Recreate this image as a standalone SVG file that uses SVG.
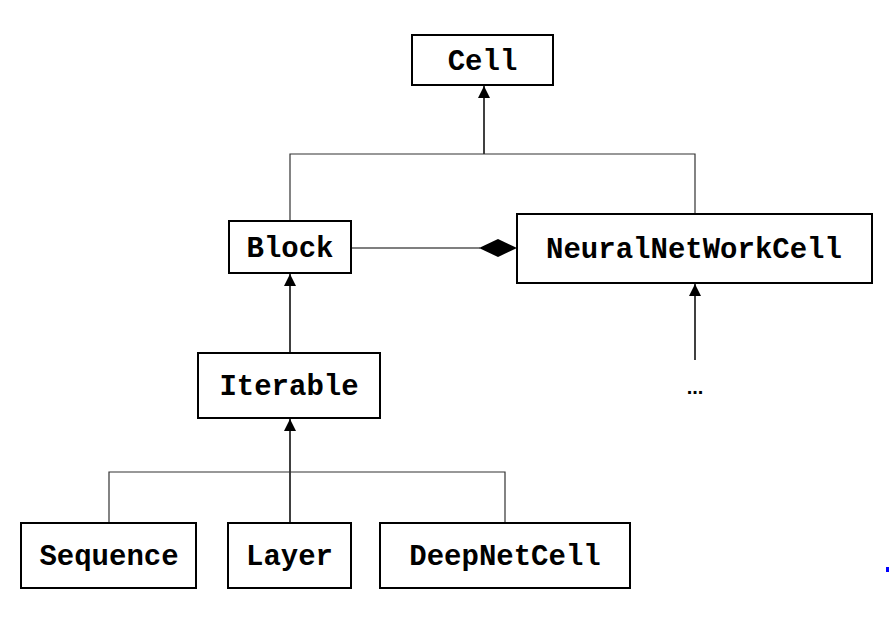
<svg xmlns="http://www.w3.org/2000/svg" width="890" height="623" viewBox="0 0 890 623">
<style>
.box{fill:#fff;stroke:#000;stroke-width:2}
.lbl{font-family:"Liberation Mono","Courier New",monospace;font-weight:bold;font-size:29px;fill:#000;text-anchor:middle;dominant-baseline:central}
.ln{fill:none;stroke:#333;stroke-width:1.2}
.ar{fill:none;stroke:#000;stroke-width:1.5;marker-end:url(#tri)}
</style>
<defs>
<marker id="tri" markerWidth="12" markerHeight="14" refX="12" refY="6" orient="auto" markerUnits="userSpaceOnUse" viewBox="0 0 12 12">
<path d="M0,0 L12,6 L0,12 z" fill="#000"/>
</marker>
</defs>
<rect width="890" height="623" fill="#fff"/>
<g id="connectors">
<line class="ar" x1="484" y1="154" x2="484" y2="86"/>
<polyline class="ln" points="290,221 290,154 695,154 695,214"/>
<line x1="351" y1="248" x2="480" y2="248" stroke="#000" stroke-width="1.2"/>
<polygon points="479,248 498,239 517,248 498,257" fill="#000"/>
<line class="ar" x1="290" y1="353" x2="290" y2="274"/>
<line class="ar" x1="695" y1="360" x2="695" y2="284"/>
<line class="ar" x1="290" y1="523" x2="290" y2="419"/>
<polyline class="ln" points="109,523 109,472 505,472 505,523"/>
</g>
<g id="cell"><rect class="box" x="412" y="35" width="141" height="50"/><text class="lbl" x="482.5" y="62">Cell</text></g>
<g id="block"><rect class="box" x="229" y="221" width="122" height="52"/><text class="lbl" x="290" y="249">Block</text></g>
<g id="nnc"><rect class="box" x="517" y="214" width="355" height="69"/><text class="lbl" x="694" y="250">NeuralNetWorkCell</text></g>
<g id="iterable"><rect class="box" x="198" y="353" width="182" height="65"/><text class="lbl" x="289" y="387">Iterable</text></g>
<g id="sequence"><rect class="box" x="21" y="523" width="175" height="65"/><text class="lbl" x="109" y="557">Sequence</text></g>
<g id="layer"><rect class="box" x="228" y="523" width="123" height="65"/><text class="lbl" x="289.5" y="557">Layer</text></g>
<g id="deepnetcell"><rect class="box" x="380" y="523" width="250" height="65"/><text class="lbl" x="505" y="557">DeepNetCell</text></g>
<g id="more"><text x="695" y="394" font-family="Liberation Sans, Arial, sans-serif" font-size="20" font-weight="bold" text-anchor="middle" fill="#000">...</text></g>
<rect x="886" y="567" width="3" height="5" fill="#0000ff"/>
</svg>
